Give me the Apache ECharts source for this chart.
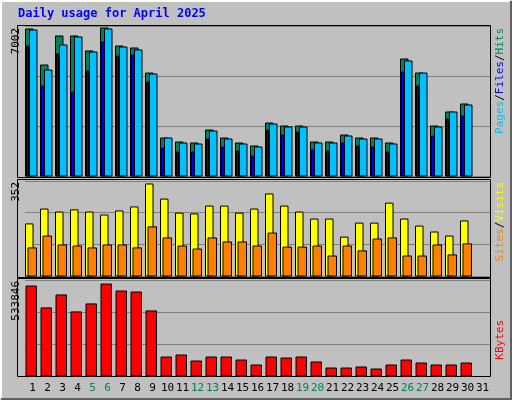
<!DOCTYPE html>
<html><head><meta charset="utf-8">
<script src="https://cdn.jsdelivr.net/npm/echarts@6/dist/echarts.min.js"></script>
<style>html,body{margin:0;padding:0;background:#c0c0c0}#c{width:512px;height:400px}</style>
</head><body><div id="c"></div>
<script>
const days = Array.from({length:31},(_, i)=>String(i+1));
const weekendDays = ['5','6','12','13','19','20','26','27'];
const hits = [6863,5182,6536,6536,5836,6910,6069,5976,4806,1774,1587,1541,2147,1774,1541,1401,2474,2334,2334,1587,1587,1914,1774,1774,1541,5462,4806,2334,2988,3361];
const files = [6816,4948,6116,6489,5789,6863,6022,5882,4762,1774,1541,1494,2101,1727,1494,1354,2427,2287,2287,1541,1541,1867,1727,1727,1494,5369,4806,2287,2988,3314];
const pages = [6069,4201,5696,3921,4902,6256,5603,5649,4388,1307,1120,1120,1727,1354,1167,934,2147,1914,2054,1214,1167,1541,1400,1354,1120,4855,4201,1867,2660,2800];
const visits = [193,248,237,245,237,226,241,256,341,285,233,230,259,259,233,248,304,259,237,211,211,144,196,196,270,211,185,163,148,204];
const sites = [104,148,115,111,104,115,115,104,182,141,111,100,141,126,126,111,159,107,107,111,74,111,93,137,141,74,74,115,78,119];
const kbytes = [500241,378587,450649,356307,400787,511361,472444,467024,361868,105545,116650,83300,105545,105545,88860,61106,105545,100000,105545,77739,44388,44388,50000,38831,61106,88860,72179,61106,61106,72179];
const hitsMax = '7002', visitsMax = '352', kbytesMax = '533846';

const font = '"DejaVu Sans Mono", monospace';
function rectItem(color, off, wid){
  return function(params, api){
    const x = api.value(0), v = api.value(1);
    const top = api.coord([x, v]);
    const base = api.coord([x, 0]);
    const w = api.size([1,0])[0];
    const left = top[0] - w/2;
    return {type:'rect', shape:{x:left+off, y:top[1], width:wid, height:base[1]-top[1]},
      style:{fill:color, stroke:'#000', lineWidth:1}};
  };
}
function ser(name, arr, gi, color, off, wid, z){
  return {type:'custom', name, xAxisIndex:gi, yAxisIndex:gi, z:z,
    renderItem: rectItem(color, off, wid), data: arr.map((v,i)=>[i,v])};
}
const grids = [{left:25,right:22,top:26,height:150},{left:25,right:22,top:181,height:95},{left:25,right:22,top:280,height:96}];
const maxes = [+hitsMax, +visitsMax, +kbytesMax];
const xAxes = grids.map((g,i)=>({type:'category', gridIndex:i, data:days, boundaryGap:true,
  axisLine:{show:false}, axisTick:{show:false},
  axisLabel:{show:i===2, interval:0, margin:7, fontFamily:font, fontSize:11,
    formatter:v=>weekendDays.includes(v)?'{w|'+v+'}':v, color:'#000', rich:{w:{color:'#00805c',fontFamily:font,fontSize:11}}}}));
const yAxes = grids.map((g,i)=>({type:'value', gridIndex:i, min:0, max:maxes[i], interval:maxes[i]/3,
  axisLabel:{show:false}, axisLine:{show:false}, axisTick:{show:false},
  splitLine:{show:true, lineStyle:{color:'#808080', width:1}}}));
const rt = (x,y,rich,text)=>({type:'text', x, y, rotation:Math.PI/2, style:{text, rich, font:'11px '+font, align:'right', verticalAlign:'middle'}});
const chart = echarts.init(document.getElementById('c'));
chart.setOption({
  backgroundColor:'#c0c0c0', animation:false,
  grid:grids, xAxis:xAxes, yAxis:yAxes,
  graphic:[
    {type:'polyline', shape:{points:[[1,399],[1,1],[511,1]]}, style:{stroke:'#fff',lineWidth:2,fill:null}},
    {type:'polyline', shape:{points:[[1,399],[511,399],[511,1]]}, style:{stroke:'#606060',lineWidth:2,fill:null}},
    {type:'text', left:18, top:8, style:{text:'Daily usage for April 2025', fill:'#0000ff', font:'bold 12px '+font}},
    {type:'rect', shape:{x:17.5,y:25.5,width:473,height:152}, style:{fill:null,stroke:'#000'}, z:10},
    {type:'rect', shape:{x:17.5,y:179.5,width:473,height:98}, style:{fill:null,stroke:'#000'}, z:10},
    {type:'rect', shape:{x:17.5,y:278.5,width:473,height:98}, style:{fill:null,stroke:'#000'}, z:10},
    {type:'text', x:16, y:28, rotation:Math.PI/2, style:{text:hitsMax, font:'11px '+font, fill:'#000', align:'right', verticalAlign:'middle'}},
    {type:'text', x:16, y:182, rotation:Math.PI/2, style:{text:visitsMax, font:'11px '+font, fill:'#000', align:'right', verticalAlign:'middle'}},
    {type:'text', x:16, y:281, rotation:Math.PI/2, style:{text:kbytesMax, font:'11px '+font, fill:'#000', align:'right', verticalAlign:'middle'}},
    {type:'text', x:500, y:28, rotation:Math.PI/2, style:{text:'{p|Pages}{s|/}{f|Files}{s|/}{h|Hits}', align:'right', verticalAlign:'middle',
      rich:{p:{fill:'#00c0ff',font:'11px '+font},s:{fill:'#000',font:'11px '+font},f:{fill:'#0000ff',font:'11px '+font},h:{fill:'#00805c',font:'11px '+font}}}},
    {type:'text', x:500, y:182, rotation:Math.PI/2, style:{text:'{a|Sites}{s|/}{b|Visits}', align:'right', verticalAlign:'middle',
      rich:{a:{fill:'#ff8000',font:'11px '+font},s:{fill:'#000',font:'11px '+font},b:{fill:'#ffff00',font:'11px '+font}}}},
    {type:'text', x:500, y:320, rotation:Math.PI/2, style:{text:'KBytes', fill:'#ff0000', font:'11px '+font, align:'right', verticalAlign:'middle'}}
  ],
  series:[
    ser('Hits', hits, 0, '#00805c', 0.5, 7.5, 2),
    ser('Files', files, 0, '#00c0ff', 4.5, 7.5, 3),
    ser('Pages', pages, 0, '#0000ff', 1.5, 2, 4),
    ser('Visits', visits, 1, '#ffff00', 0.5, 7.5, 2),
    ser('Sites', sites, 1, '#ff8000', 3, 8.5, 3),
    ser('KBytes', kbytes, 2, '#ff0000', 1, 10.5, 2)
  ]
});
</script></body></html>
